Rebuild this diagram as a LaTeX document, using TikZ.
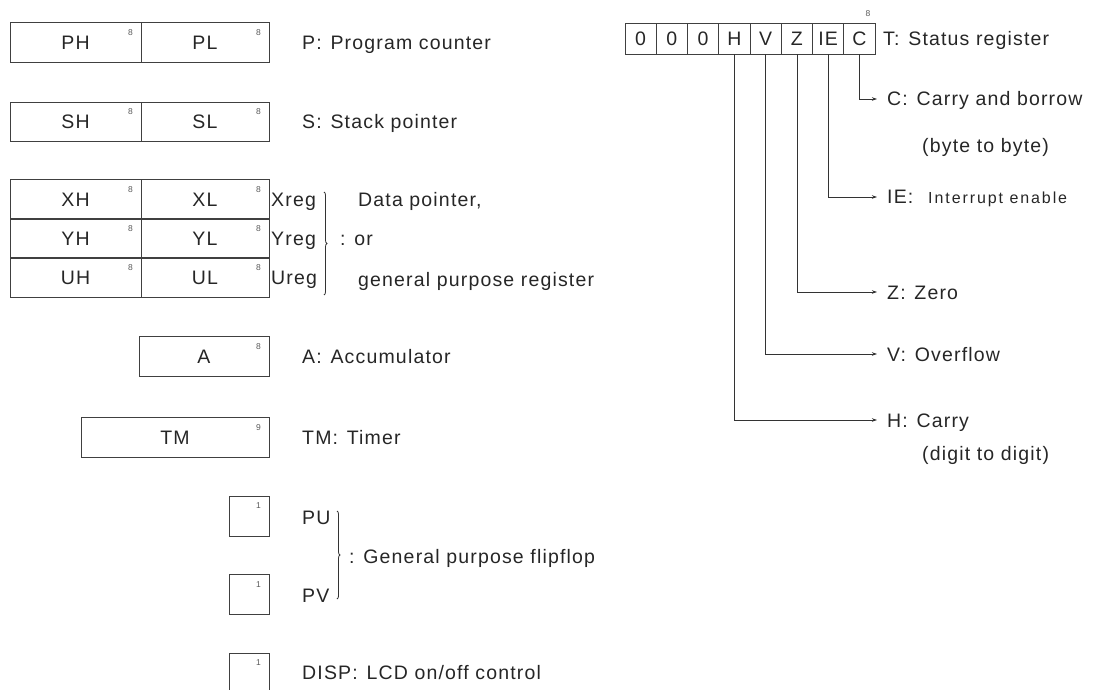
\documentclass[tikz,border=0pt]{standalone}
\usepackage{fontspec}
\setmainfont{Liberation Sans}[LetterSpace=6]
\usetikzlibrary{arrows.meta,decorations.pathreplacing}
\newcommand\sep{\hspace{0.45em}}
\newcommand\bitno[2]{\node[bit] (#1n) at ([xshift=-11pt,yshift=-10pt]#1.north east) {#2};}
\begin{document}
\begin{tikzpicture}[x=1pt,y=-1pt,
  every node/.style={font=\fontsize{19.5}{22}\selectfont, text=black!85, inner sep=0pt},
  reg/.style={draw=black!75, line width=0.8pt, minimum height=39.5pt, text height=14pt, text depth=0pt},
  sreg/.style={draw=black!75, line width=0.8pt, minimum height=31pt, minimum width=31.25pt, text height=14pt, text depth=0pt},
  bit/.style={font=\fontsize{8.5}{9}\selectfont, text=black!65},
  lbl/.style={anchor=west, text height=14pt, text depth=0pt},
  small/.style={lbl, font=\fontsize{16}{18}\selectfont\addfontfeature{LetterSpace=12}},
  arr/.style={draw=black!80, line width=0.7pt, -{Stealth[length=5pt,width=3.5pt]}, shorten >=10pt},
  brc/.style={draw=black!80, line width=0.8pt, decorate, decoration={brace, amplitude=3pt}}
]
\useasboundingbox (0,0) rectangle (1109,690);
\clip (0,0) rectangle (1109,690);

% P and S
\node[reg, minimum width=131pt] (PH) at (75.5,42.5) {PH};
\node[reg, minimum width=128pt] (PL) at (205,42.5) {PL};
\bitno{PH}{8}\bitno{PL}{8}
\node[lbl] (lP) at (302,42.5) {P:\sep Program counter};

\node[reg, minimum width=131pt] (SH) at (75.5,122) {SH};
\node[reg, minimum width=128pt] (SL) at (205,122) {SL};
\bitno{SH}{8}\bitno{SL}{8}
\node[lbl] (lS) at (302,122) {S:\sep Stack pointer};

% X, Y, U
\node[reg, minimum width=131pt] (XH) at (75.5,199.5) {XH};
\node[reg, minimum width=128pt] (XL) at (205,199.5) {XL};
\node[reg, minimum width=131pt] (YH) at (75.5,238.5) {YH};
\node[reg, minimum width=128pt] (YL) at (205,238.5) {YL};
\node[reg, minimum width=131pt] (UH) at (75.5,277.5) {UH};
\node[reg, minimum width=128pt] (UL) at (205,277.5) {UL};
\bitno{XH}{8}\bitno{XL}{8}\bitno{YH}{8}\bitno{YL}{8}\bitno{UH}{8}\bitno{UL}{8}
\node[lbl] (xr) at (271,199.5) {Xreg};
\node[lbl] (yr) at (271,238.5) {Yreg};
\node[lbl] (ur) at (271,277.5) {Ureg};
\coordinate (b1t) at (324,192);
\coordinate (b1b) at (324,295);
\draw[brc] (b1t) -- (b1b);
\node[lbl] (lor) at (340,238.5) {:\sep or};
\node[lbl] (ldp) at (358,199.5) {Data pointer,};
\node[lbl] (lgp) at (358,279) {general purpose register};

% A and TM
\node[reg, minimum width=130pt] (A) at (204,356.5) {A};
\bitno{A}{8}
\node[lbl] (lA) at (302,356.5) {A:\sep Accumulator};
\node[reg, minimum width=188pt] (TM) at (175,437.5) {TM};
\bitno{TM}{9}
\node[lbl] (lTM) at (302,437.5) {TM:\sep Timer};

% flipflops
\node[reg, minimum width=40pt, minimum height=40pt] (PUb) at (249,516) {};
\node[reg, minimum width=40pt, minimum height=40pt] (PVb) at (249,594.5) {};
\node[reg, minimum width=40pt, minimum height=40pt] (DSb) at (249,673) {};
\bitno{PUb}{1}\bitno{PVb}{1}\bitno{DSb}{1}
\node[lbl] (lPU) at (302,517) {PU};
\node[lbl] (lPV) at (302,595) {PV};
\coordinate (b2t) at (337,511);
\coordinate (b2b) at (337,599);
\draw[brc] (b2t) -- (b2b);
\node[lbl] (lGF) at (349,556) {:\sep General purpose flipflop};
\node[lbl] (lDS) at (302,672) {DISP:\sep LCD on/off control};

% status register
\node[sreg] (s1) at (640.6,38.5) {0};
\node[sreg] (s2) at (671.9,38.5) {0};
\node[sreg] (s3) at (703.1,38.5) {0};
\node[sreg] (s4) at (734.4,38.5) {H};
\node[sreg] (s5) at (765.6,38.5) {V};
\node[sreg] (s6) at (796.9,38.5) {Z};
\node[sreg] (s7) at (828.1,38.5) {IE};
\node[sreg] (s8) at (859.4,38.5) {C};
\node[bit] (s8n) at (868,14) {8};
\node[lbl] (lT) at (883,39) {T:\sep Status register};

\node[lbl] (lC) at (887,99) {C:\sep Carry and borrow};
\node[lbl] (lC2) at (922,146) {(byte to byte)};
\node[lbl] (lIE) at (887,197) {IE:};
\node[small] (lIE2) at (928,197) {Interrupt enable};
\node[lbl] (lZ) at (887,292) {Z:\sep Zero};
\node[lbl] (lV) at (887,354) {V:\sep Overflow};
\node[lbl] (lH) at (887,420) {H:\sep Carry};
\node[lbl] (lH2) at (922,453) {(digit to digit)};

\draw[arr] (s8.south) |- (lC.west);
\draw[arr] (s7.south) |- (lIE.west);
\draw[arr] (s6.south) |- (lZ.west);
\draw[arr] (s5.south) |- (lV.west);
\draw[arr] (s4.south) |- (lH.west);
\end{tikzpicture}
\end{document}
